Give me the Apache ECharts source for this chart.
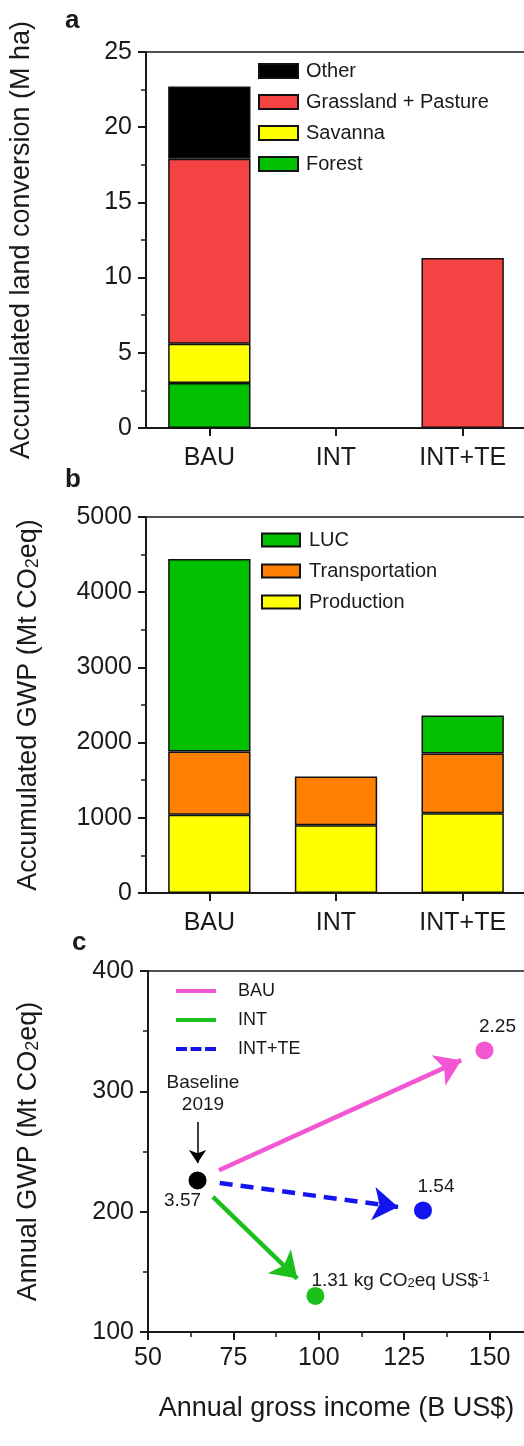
<!DOCTYPE html>
<html>
<head>
<meta charset="utf-8">
<script src="https://cdn.jsdelivr.net/npm/echarts@6/dist/echarts.min.js"></script>
<style>
  html, body { margin: 0; padding: 0; background: #fff; }
  #chart { width: 524px; height: 1446px; }
</style>
</head>
<body>
<div id="chart"></div>
<script>
  // a: accumulated land conversion (M ha)
  const scenarios = ['BAU', 'INT', 'INT+TE']
  const forest = [3.0, null, null]
  const savanna = [2.6, null, null]
  const grassland = [12.3, null, 11.3]
  const other = [4.8, null, null]

  // b: accumulated GWP (Mt CO2eq)
  const production = [1040, 900, 1060]
  const transportation = [840, 650, 795]
  const luc = [2560, null, 505]

  // c: annual GWP vs annual gross income
  const pointNames = ['Baseline 2019', 'BAU', 'INT', 'INT+TE']
  const grossIncome = [64.5, 148.5, 99, 130.5]
  const annualGwp = [226, 334, 130, 201]
  const intensity = ['3.57', '2.25', '1.31', '1.54']
  // arrows for BAU, INT, INT+TE (data coords, tail -> tip)
  const arrowFrom = [[70.8, 234.4], [69.0, 212.2], [71.0, 223.9]]
  const arrowTo = [[141.7, 325.9], [93.7, 144.4], [123.2, 203.9]]
  const baselineArrow = [[64.5, 274.6], [64.5, 240.5]]
  const baselineNote = [66.1, 297.6]

  const FONT = 'Liberation Sans'
  const INK = '#1a1a1a'
  const pink = '#f256d2', green = '#1cc01c', blue = '#1414f0'
  const pointColors = ['#000000', pink, green, blue]

  let chart = echarts.init(document.getElementById('chart'))

  function plainNum(v) { return String(v) }

  function yAxisBase(idx) {
    return {
      gridIndex: idx,
      type: 'value',
      nameLocation: 'middle',
      nameRotate: 90,
      nameMoveOverlap: false,
      nameTextStyle: {
        fontFamily: FONT, fontSize: 27, color: INK,
        rich: { sub: { fontFamily: FONT, fontSize: 18, color: INK, verticalAlign: 'bottom', lineHeight: 12 } }
      },
      splitLine: { show: false },
      axisLine: { show: true, lineStyle: { color: INK, width: 2 } },
      axisTick: { show: true, length: 8, lineStyle: { color: INK, width: 2 } },
      minorTick: { show: true, splitNumber: 2, length: 5, lineStyle: { color: INK, width: 1.5 } },
      axisLabel: { fontFamily: FONT, fontSize: 25, color: INK, margin: 14, formatter: plainNum }
    }
  }

  function catAxis(idx) {
    return {
      gridIndex: idx,
      type: 'category',
      data: scenarios,
      axisLine: { show: true, lineStyle: { color: INK, width: 2 } },
      axisTick: { show: true, alignWithLabel: true, length: 8, lineStyle: { color: INK, width: 2 } },
      axisLabel: { fontFamily: FONT, fontSize: 25, color: INK, margin: 18 },
      splitLine: { show: false }
    }
  }

  function barSeries(name, data, color, stack, idx) {
    return {
      name: name, type: 'bar', stack: stack, data: data,
      xAxisIndex: idx, yAxisIndex: idx,
      barWidth: '65%', color: color,
      itemStyle: { color: color, borderColor: '#111', borderWidth: 1.5 }
    }
  }

  const gridBox = { show: true, borderColor: INK, borderWidth: 1.5, backgroundColor: 'transparent', outerBoundsMode: 'none' }

  const pointLabels = [
    { position: 'bottom', offset: [-15, -3] },
    { position: 'top', offset: [13, 0] },
    { position: 'top', align: 'left', offset: [-4, 8],
      formatter: intensity[2] + ' kg CO{sub|2}eq US$' + '{sup|-1}' },
    { position: 'top', offset: [13, 0] }
  ]

  const lineTypes = ['solid', 'solid', [13, 8]]
  const arrowNames = ['BAU', 'INT', 'INT+TE']
  const arrowColors = [pink, green, blue]

  let arrowSeries = arrowNames.map(function (n, i) {
    return {
      name: n, type: 'lines', coordinateSystem: 'cartesian2d',
      xAxisIndex: 2, yAxisIndex: 2, z: 2,
      color: arrowColors[i],
      symbol: ['none', 'arrow'], symbolSize: 25,
      lineStyle: { color: arrowColors[i], width: 4.5, type: lineTypes[i], opacity: 1, curveness: 0 },
      data: [{ coords: [arrowFrom[i], arrowTo[i]] }]
    }
  })

  chart.setOption({
    animation: false,
    backgroundColor: '#fff',
    title: [
      { text: 'a', left: 65, top: 8 },
      { text: 'b', left: 65, top: 467 },
      { text: 'c', left: 72, top: 930 }
    ].map(function (t) {
      t.textStyle = { fontFamily: FONT, fontSize: 26, fontWeight: 'bold', color: INK }
      t.padding = 0
      return t
    }),
    grid: [
      Object.assign({ left: 146, top: 52, right: -2, height: 376 }, gridBox),
      Object.assign({ left: 146, top: 517, right: -2, height: 376 }, gridBox),
      Object.assign({ left: 148, top: 971, right: -51, height: 361 }, gridBox)
    ],
    legend: [
      {
        orient: 'vertical', left: 258, top: 61, padding: 0,
        itemWidth: 39, itemHeight: 14, itemGap: 11,
        textStyle: { fontFamily: FONT, fontSize: 20, color: INK, lineHeight: 20, padding: [0, 0, 0, 3] },
        data: ['Other', 'Grassland + Pasture', 'Savanna', 'Forest'],
        icon: 'rect', selectedMode: false
      },
      {
        orient: 'vertical', left: 261, top: 530, padding: 0,
        itemWidth: 38, itemHeight: 13, itemGap: 11,
        textStyle: { fontFamily: FONT, fontSize: 20, color: INK, lineHeight: 20, padding: [0, 0, 0, 4] },
        data: ['LUC', 'Transportation', 'Production'],
        icon: 'rect', selectedMode: false
      },
      {
        orient: 'vertical', left: 176, top: 982, padding: 0,
        itemWidth: 40, itemHeight: 4, itemGap: 11,
        textStyle: { fontFamily: FONT, fontSize: 18, color: INK, lineHeight: 18, padding: [0, 0, 0, 17] },
        data: [
          { name: 'BAU', icon: 'rect', itemStyle: { color: pink, borderWidth: 0 } },
          { name: 'INT', icon: 'rect', itemStyle: { color: green, borderWidth: 0 } },
          { name: 'INT+TE', icon: 'path://M0,0h11v4h-11z M14.5,0h11v4h-11z M29,0h11v4h-11z', itemStyle: { color: blue, borderWidth: 0 } }
        ],
        selectedMode: false
      }
    ],
    xAxis: [
      catAxis(0),
      catAxis(1),
      {
        gridIndex: 2, type: 'value', min: 50, max: 175, interval: 25,
        name: 'Annual gross income (B US$)',
        nameLocation: 'middle', nameGap: 63, nameMoveOverlap: false,
        nameTextStyle: { fontFamily: FONT, fontSize: 27, color: INK, padding: [0, 50, 0, 0] },
        splitLine: { show: false },
        axisLine: { show: true, lineStyle: { color: INK, width: 2 } },
        axisTick: { show: true, length: 8, lineStyle: { color: INK, width: 2 } },
        minorTick: { show: true, splitNumber: 2, length: 5, lineStyle: { color: INK, width: 1.5 } },
        axisLabel: { fontFamily: FONT, fontSize: 25, color: INK, margin: 14 }
      }
    ],
    yAxis: [
      Object.assign(yAxisBase(0), { min: 0, max: 25, interval: 5, name: 'Accumulated land conversion (M ha)', nameGap: 111 }),
      Object.assign(yAxisBase(1), { min: 0, max: 5000, interval: 1000, name: 'Accumulated GWP (Mt CO{sub|2}eq)', nameGap: 104 }),
      Object.assign(yAxisBase(2), { min: 100, max: 400, interval: 100, name: 'Annual GWP (Mt CO{sub|2}eq)', nameGap: 106 })
    ],
    series: [
      barSeries('Forest', forest, '#00c000', 'land', 0),
      barSeries('Savanna', savanna, '#ffff00', 'land', 0),
      barSeries('Grassland + Pasture', grassland, '#f54343', 'land', 0),
      barSeries('Other', other, '#000000', 'land', 0),

      barSeries('Production', production, '#ffff00', 'gwp', 1),
      barSeries('Transportation', transportation, '#ff8000', 'gwp', 1),
      barSeries('LUC', luc, '#00c000', 'gwp', 1)
    ].concat(arrowSeries).concat([
      {
        name: 'baseline arrow', type: 'lines', coordinateSystem: 'cartesian2d',
        xAxisIndex: 2, yAxisIndex: 2, z: 2,
        symbol: ['none', 'arrow'], symbolSize: 13,
        lineStyle: { color: '#000', width: 1.5, opacity: 1 },
        data: [{ coords: baselineArrow }]
      },
      {
        name: 'baseline note', type: 'scatter', xAxisIndex: 2, yAxisIndex: 2,
        symbolSize: 0, z: 4,
        itemStyle: { opacity: 1 },
        label: { show: true, position: 'inside', formatter: 'Baseline\n2019',
          fontFamily: FONT, fontSize: 19, lineHeight: 22, color: INK },
        data: [baselineNote]
      },
      {
        name: 'points', type: 'scatter', xAxisIndex: 2, yAxisIndex: 2,
        symbolSize: 18, z: 3,
        itemStyle: { opacity: 1 },
        label: {
          show: true, fontFamily: FONT, fontSize: 19, color: INK,
          rich: {
            sub: { fontFamily: FONT, fontSize: 13, color: INK, verticalAlign: 'bottom', lineHeight: 10 },
            sup: { fontFamily: FONT, fontSize: 13, color: INK, verticalAlign: 'top', lineHeight: 10 }
          }
        },
        data: pointNames.map(function (n, i) {
          return {
            name: n,
            value: [grossIncome[i], annualGwp[i]],
            itemStyle: { color: pointColors[i], opacity: 1 },
            label: Object.assign({ formatter: intensity[i] }, pointLabels[i])
          }
        })
      }
    ])
  })
</script>
</body>
</html>
